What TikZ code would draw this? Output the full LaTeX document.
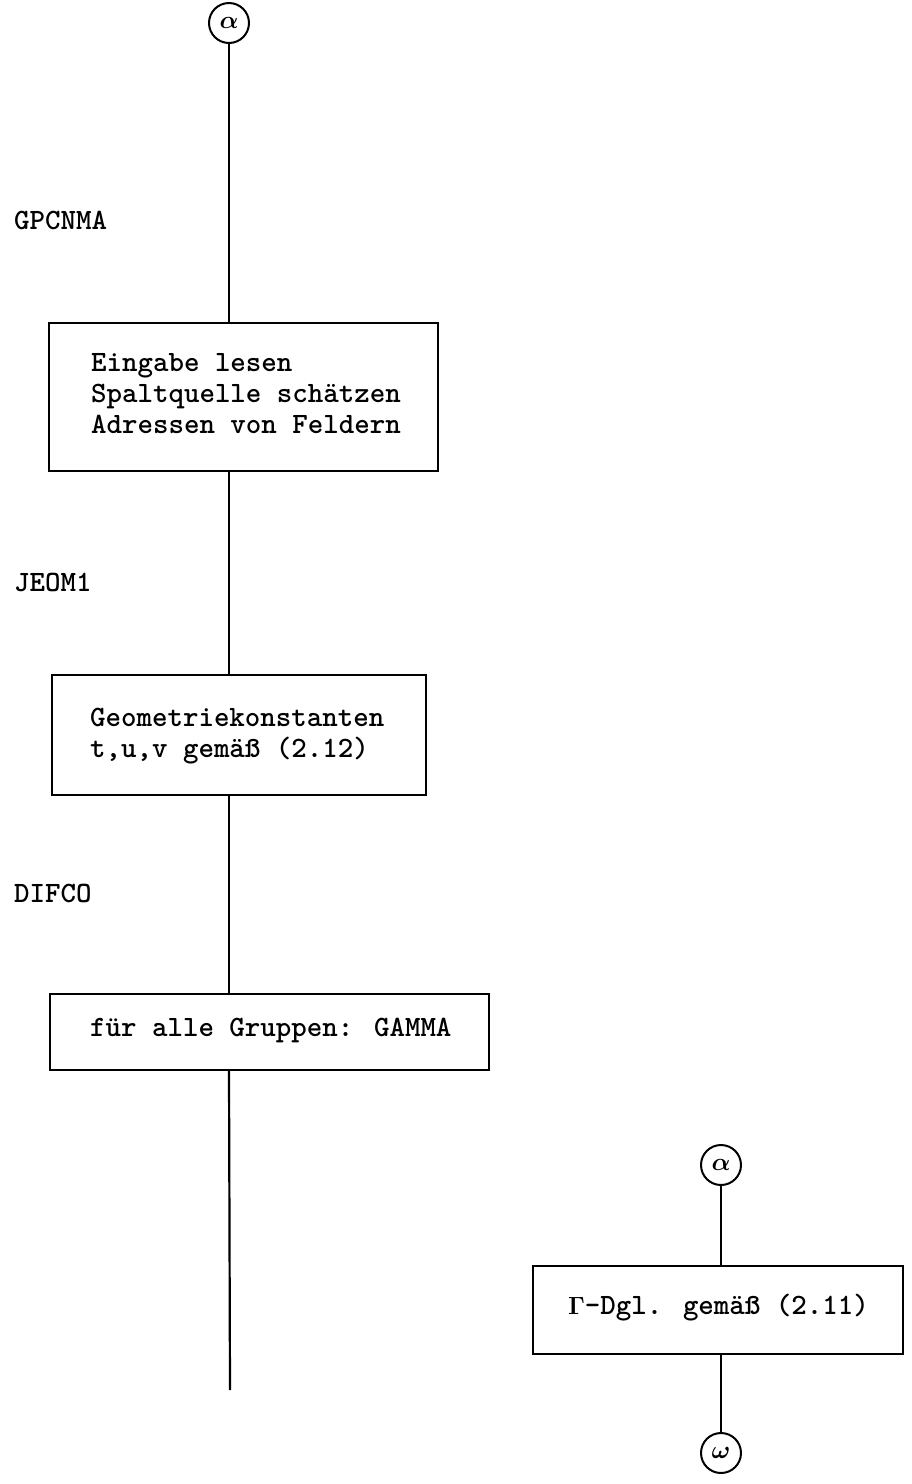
\documentclass[tikz,border=0pt]{standalone}
\begin{document}
\begin{tikzpicture}[x=1pt,y=-1pt,
  line width=2.2pt,
  term/.style={circle,draw,line width=2pt,minimum size=40pt,inner sep=0pt,font=\boldmath\fontsize{27}{27}\selectfont},
  box/.style={draw,line width=2.4pt,rectangle,inner sep=0pt},
  txt/.style={anchor=west,align=left,inner sep=0pt,font=\ttfamily\bfseries\fontsize{29.5}{31}\selectfont},
  lbl/.style={anchor=west,inner sep=0pt,font=\ttfamily\bfseries\fontsize{29.5}{31}\selectfont}]
\useasboundingbox (0,0) rectangle (911,1484);
% main column
\node[term] (a1) at (229,23) {$\alpha$};
\node[lbl] (l1) at (13,220) {GPCNMA};
\node[box,minimum width=389pt,minimum height=148pt] (b1) at (243.5,397) {};
\node[txt] (t1) at (90,394) {Eingabe lesen\\Spaltquelle schätzen\\Adressen von Feldern};
\node[lbl] (l2) at (13,582) {JEOM1};
\node[box,minimum width=374pt,minimum height=120pt] (b2) at (239,735) {};
\node[txt] (t2) at (89,736) {Geometriekonstanten\\t,u,v gemäß (2.12)};
\node[lbl] (l3) at (13,893) {DIFCO};
\node[box,minimum width=439pt,minimum height=76pt] (b3) at (269.5,1032) {};
\node[txt] (t3) at (89,1030) {für alle Gruppen: GAMMA};
\coordinate (e1) at (230,1390);
\draw (a1.south) -- (a1.south |- b1.north);
\draw (a1.south |- b1.south) -- (a1.south |- b2.north);
\draw (a1.south |- b2.south) -- (a1.south |- b3.north);
\draw (a1.south |- b3.south) -- (e1);
% right column
\node[term] (a2) at (721,1165) {$\alpha$};
\node[box,minimum width=370pt,minimum height=88pt] (b4) at (718,1310) {};
\node[txt] (t4) at (567,1308) {$\mathbf{\Gamma}$-Dgl. gemäß (2.11)};
\node[term] (w1) at (721,1453) {$\omega$};
\draw (a2) -- (a2 |- b4.north);
\draw (a2 |- b4.south) -- (w1);
\end{tikzpicture}
\end{document}
